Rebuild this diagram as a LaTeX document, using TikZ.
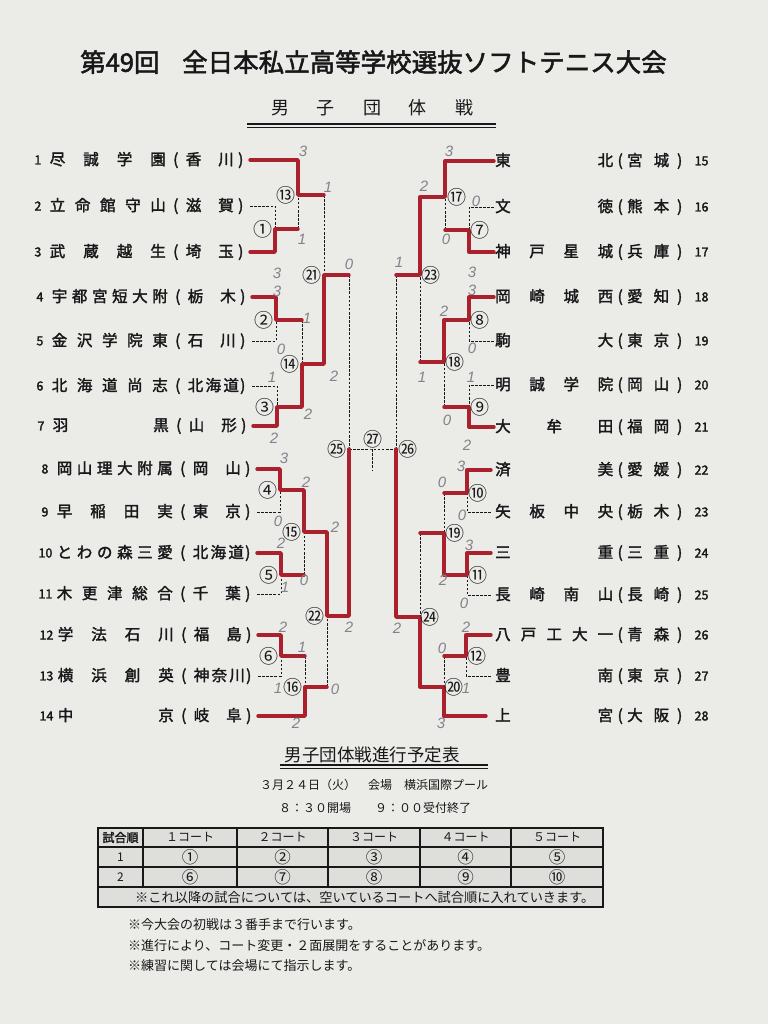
\documentclass[tikz,border=0pt]{standalone}
\usepackage{fontspec}
\setmainfont{Noto Sans CJK JP}[AutoFakeBold=2]
\newfontfamily\hand{Liberation Sans}
\usetikzlibrary{calc}
\definecolor{paper}{RGB}{235,235,232}
\definecolor{ink}{RGB}{24,24,26}
\definecolor{marker}{RGB}{170,32,44}
\definecolor{pencil}{RGB}{130,130,140}
\definecolor{cellgrey}{RGB}{222,222,219}
\newcommand\LT[2]{\makebox[116pt][s]{#1}\makebox[20pt]{(}\makebox[48pt][s]{#2}\makebox[14pt]{)}}
\newcommand\RT[2]{\makebox[118pt][s]{#1}\makebox[14pt]{(}\makebox[42pt][s]{#2}\makebox[21pt]{)}}
\tikzset{
  win/.style={draw=marker, line width=3.4pt, line join=round, line cap=round},
  lose/.style={draw=ink, line width=0.9pt, dash pattern=on 2.6pt off 1.5pt},
  tname/.style={inner sep=0pt, font=\bfseries\fontsize{15.5}{16}\selectfont, text=ink},
  tnum/.style={inner sep=0pt, font=\bfseries\fontsize{12.5}{13}\selectfont, text=ink},
  mlab/.style={inner sep=0pt, font=\fontsize{19}{19}\selectfont, text=ink},
  score/.style={inner sep=0pt, font=\hand\itshape\fontsize{15}{15}\selectfont, text=pencil},
  cell/.style={inner sep=0pt, font=\fontsize{12}{12}\selectfont, text=ink},
  ccirc/.style={inner sep=0pt, font=\fontsize{16.5}{16.5}\selectfont, text=ink},
  note/.style={inner sep=0pt, font=\fontsize{13}{13}\selectfont, text=ink, anchor=west},
  tabline/.style={draw=ink, line width=1.4pt},
}
\begin{document}
\begin{tikzpicture}[x=1pt,y=-1pt]
\useasboundingbox (0,0) rectangle (768,1024);
\fill[paper] (0,0) rectangle (768,1024);

% ---------- titles ----------
\node[inner sep=0pt, anchor=west, font=\bfseries\fontsize{25.5}{26}\selectfont, text=ink] (ttl1) at (80,62) {第49回};
\node[inner sep=0pt, anchor=west, font=\bfseries\fontsize{25.5}{26}\selectfont, text=ink] (ttl2) at (182,62) {全日本私立高等学校選抜ソフトテニス大会};
\node[inner sep=0pt, font=\fontsize{18}{18}\selectfont, text=ink] (sub) at (372,108) {\makebox[202pt][s]{男 子 団 体 戦}};
\coordinate (ulA) at (247,124);
\coordinate (ulB) at (496,124);
\draw[ink, line width=2pt] (ulA) -- (ulB);
\draw[ink, line width=0.7pt] ($(ulA)+(0,3.2)$) -- ($(ulB)+(0,3.2)$);

% ---------- left teams ----------
\coordinate (T1) at (250,160);
\coordinate (T2) at (250,206);
\coordinate (T3) at (250,252);
\coordinate (T4) at (252,297);
\coordinate (T5) at (252,341);
\coordinate (T6) at (252,386);
\coordinate (T7) at (253,426);
\coordinate (T8) at (257,469);
\coordinate (T9) at (257,512);
\coordinate (T10) at (257,553);
\coordinate (T11) at (257,594);
\coordinate (T12) at (258,635);
\coordinate (T13) at (258,676);
\coordinate (T14) at (258,716);

\node[tname,anchor=east] (N1) at ($(T1)+(-2,0)$) {\LT{尽 誠 学 園}{香 川}};
\node[tname,anchor=east] (N2) at ($(T2)+(-2,0)$) {\LT{立 命 館 守 山}{滋 賀}};
\node[tname,anchor=east] (N3) at ($(T3)+(-2,0)$) {\LT{武 蔵 越 生}{埼 玉}};
\node[tname,anchor=east] (N4) at ($(T4)+(-2,0)$) {\LT{宇 都 宮 短 大 附}{栃 木}};
\node[tname,anchor=east] (N5) at ($(T5)+(-2,0)$) {\LT{金 沢 学 院 東}{石 川}};
\node[tname,anchor=east] (N6) at ($(T6)+(-2,0)$) {\LT{北 海 道 尚 志}{北 海 道}};
\node[tname,anchor=east] (N7) at ($(T7)+(-2,0)$) {\LT{羽 黒}{山 形}};
\node[tname,anchor=east] (N8) at ($(T8)+(-2,0)$) {\LT{岡 山 理 大 附 属}{岡 山}};
\node[tname,anchor=east] (N9) at ($(T9)+(-2,0)$) {\LT{早 稲 田 実}{東 京}};
\node[tname,anchor=east] (N10) at ($(T10)+(-2,0)$) {\LT{と わ の 森 三 愛}{北 海 道}};
\node[tname,anchor=east] (N11) at ($(T11)+(-2,0)$) {\LT{木 更 津 総 合}{千 葉}};
\node[tname,anchor=east] (N12) at ($(T12)+(-2,0)$) {\LT{学 法 石 川}{福 島}};
\node[tname,anchor=east] (N13) at ($(T13)+(-2,0)$) {\LT{横 浜 創 英}{神 奈 川}};
\node[tname,anchor=east] (N14) at ($(T14)+(-2,0)$) {\LT{中 京}{岐 阜}};

\node[tnum,anchor=east] (K1) at ($(N1.west)+(-8,0)$) {1};
\node[tnum,anchor=east] (K2) at ($(N2.west)+(-8,0)$) {2};
\node[tnum,anchor=east] (K3) at ($(N3.west)+(-8,0)$) {3};
\node[tnum,anchor=east] (K4) at ($(N4.west)+(-8,0)$) {4};
\node[tnum,anchor=east] (K5) at ($(N5.west)+(-8,0)$) {5};
\node[tnum,anchor=east] (K6) at ($(N6.west)+(-8,0)$) {6};
\node[tnum,anchor=east] (K7) at ($(N7.west)+(-8,0)$) {7};
\node[tnum,anchor=east] (K8) at ($(N8.west)+(-8,0)$) {8};
\node[tnum,anchor=east] (K9) at ($(N9.west)+(-8,0)$) {9};
\node[tnum,anchor=east] (K10) at ($(N10.west)+(-4,0)$) {10};
\node[tnum,anchor=east] (K11) at ($(N11.west)+(-4,0)$) {11};
\node[tnum,anchor=east] (K12) at ($(N12.west)+(-4,0)$) {12};
\node[tnum,anchor=east] (K13) at ($(N13.west)+(-4,0)$) {13};
\node[tnum,anchor=east] (K14) at ($(N14.west)+(-4,0)$) {14};

% ---------- right teams ----------
\coordinate (T15) at (494,161);
\coordinate (T16) at (494,207);
\coordinate (T17) at (494,252);
\coordinate (T18) at (494,297);
\coordinate (T19) at (494,341);
\coordinate (T20) at (494,385);
\coordinate (T21) at (494,427);
\coordinate (T22) at (491,470);
\coordinate (T23) at (491,512);
\coordinate (T24) at (491,553);
\coordinate (T25) at (491,595);
\coordinate (T26) at (491,635);
\coordinate (T27) at (491,676);
\coordinate (T28) at (486,716);
\coordinate (RX) at (495,0);

\node[tname,anchor=west] (N15) at (T15 -| RX) {\RT{東 北}{宮 城}};
\node[tname,anchor=west] (N16) at (T16 -| RX) {\RT{文 徳}{熊 本}};
\node[tname,anchor=west] (N17) at (T17 -| RX) {\RT{神 戸 星 城}{兵 庫}};
\node[tname,anchor=west] (N18) at (T18 -| RX) {\RT{岡 崎 城 西}{愛 知}};
\node[tname,anchor=west] (N19) at (T19 -| RX) {\RT{駒 大}{東 京}};
\node[tname,anchor=west] (N20) at (T20 -| RX) {\RT{明 誠 学 院}{岡 山}};
\node[tname,anchor=west] (N21) at (T21 -| RX) {\RT{大 牟 田}{福 岡}};
\node[tname,anchor=west] (N22) at (T22 -| RX) {\RT{済 美}{愛 媛}};
\node[tname,anchor=west] (N23) at (T23 -| RX) {\RT{矢 板 中 央}{栃 木}};
\node[tname,anchor=west] (N24) at (T24 -| RX) {\RT{三 重}{三 重}};
\node[tname,anchor=west] (N25) at (T25 -| RX) {\RT{長 崎 南 山}{長 崎}};
\node[tname,anchor=west] (N26) at (T26 -| RX) {\RT{八 戸 工 大 一}{青 森}};
\node[tname,anchor=west] (N27) at (T27 -| RX) {\RT{豊 南}{東 京}};
\node[tname,anchor=west] (N28) at (T28 -| RX) {\RT{上 宮}{大 阪}};

\foreach \k in {15,...,28}{
  \node[tnum,anchor=west] (K\k) at ($(N\k.east)+(4,0)$) {\k};
}

% ---------- match junctions ----------
\coordinate (M1) at (275,229);
\coordinate (M2) at (276,320);
\coordinate (M3) at (277,407);
\coordinate (M4) at (280,490);
\coordinate (M5) at (281,575);
\coordinate (M6) at (281,656);
\coordinate (M13) at (298,195);
\coordinate (M14) at (302,364);
\coordinate (M15) at (304,532);
\coordinate (M16) at (305,687);
\coordinate (M21) at (324,275);
\coordinate (M22) at (327,616);
\coordinate (M25) at (349,449);
\coordinate (M7) at (469,230);
\coordinate (M8) at (469,320);
\coordinate (M9) at (469,407);
\coordinate (M10) at (467,493);
\coordinate (M11) at (467,575);
\coordinate (M12) at (466,656);
\coordinate (M17) at (445,197);
\coordinate (M18) at (444,362);
\coordinate (M19) at (444,533);
\coordinate (M20) at (444,687);
\coordinate (M23) at (420,275);
\coordinate (M24) at (420,617);
\coordinate (M26) at (396,449);
\coordinate (M27) at (372,449);
\coordinate (M27s) at (372,470);

% ---------- dashed (not advanced) ----------
\draw[lose] (T2) -| (M1);
\draw[lose] (M1 -| M13) -- (M13);
\draw[lose] (M13 -| M21) -- (M21);
\draw[lose] (T5) -| (M2);
\draw[lose] (M2 -| M14) -- (M14);
\draw[lose] (T6) -| (M3);
\draw[lose] (M21 -| M25) -- (M25);
\draw[lose] (T9) -| (M4);
\draw[lose] (T11) -| (M5);
\draw[lose] (M5 -| M15) -- (M15);
\draw[lose] (T13) -| (M6);
\draw[lose] (M6 -| M16) -- (M16);
\draw[lose] (M16 -| M22) -- (M22);
\draw[lose] (M25) -- (M27) -- (M26);
\draw[lose] (M27) -- (M27s);
\draw[lose] (T16) -| (M7);
\draw[lose] (M7 -| M17) -- (M17);
\draw[lose] (T19) -| (M8);
\draw[lose] (T20) -| (M9);
\draw[lose] (M9 -| M18) -- (M18);
\draw[lose] (M18 -| M23) -- (M23);
\draw[lose] (M23 -| M26) -- (M26);
\draw[lose] (T23) -| (M10);
\draw[lose] (M10 -| M19) -- (M19);
\draw[lose] (T25) -| (M11);
\draw[lose] (M19 -| M24) -- (M24);
\draw[lose] (T27) -| (M12);
\draw[lose] (M12 -| M20) -- (M20);

% ---------- red (winners) ----------
\draw[win] (T3) -| (M1) -- (M1 -| M13);
\draw[win] (T1) -| (M13) -- (M13 -| M21);
\draw[win] (T4) -| (M2) -- (M2 -| M14);
\draw[win] (T7) -| (M3) -- (M3 -| M14) -- (M14) -- (M14 -| M21) -- (M21) -- (M21 -| M25);
\draw[win] (T8) -| (M4) -- (M4 -| M15) -- (M15) -- (M15 -| M22) -- (M22) -- (M22 -| M25) -- (M25);
\draw[win] (T10) -| (M5) -- (M5 -| M15);
\draw[win] (T12) -| (M6) -- (M6 -| M16);
\draw[win] (T14) -| (M16) -- (M16 -| M22);
\draw[win] (T17) -| (M7) -- (M7 -| M17);
\draw[win] (T15) -| (M17) -- (M17 -| M23) -- (M23) -- (M23 -| M26);
\draw[win] (T18) -| (M8) -- (M8 -| M18) -- (M18) -- (M18 -| M23);
\draw[win] (T21) -| (M9) -- (M9 -| M18);
\draw[win] (T22) -| (M10) -- (M10 -| M19);
\draw[win] (T24) -| (M11) -- (M11 -| M19) -- (M19) -- (M19 -| M24);
\draw[win] (T26) -| (M12) -- (M12 -| M20);
\draw[win] (T28) -| (M20) -- (M20 -| M24) -- (M24) -- (M24 -| M26) -- (M26);

% ---------- match labels ----------
\node[mlab,anchor=east] (L1) at ($(M1)+(-2,0)$) {①};
\node[mlab,anchor=east] (L2) at ($(M2)+(-2,0)$) {②};
\node[mlab,anchor=east] (L3) at ($(M3)+(-2,0)$) {③};
\node[mlab,anchor=east] (L4) at ($(M4)+(-2,0)$) {④};
\node[mlab,anchor=east] (L5) at ($(M5)+(-2,0)$) {⑤};
\node[mlab,anchor=east] (L6) at ($(M6)+(-2,0)$) {⑥};
\node[mlab,anchor=east] (L13) at ($(M13)+(-2,0)$) {⑬};
\node[mlab,anchor=east] (L14) at ($(M14)+(-2,0)$) {⑭};
\node[mlab,anchor=east] (L15) at ($(M15)+(-2,0)$) {⑮};
\node[mlab,anchor=east] (L16) at ($(M16)+(-2,0)$) {⑯};
\node[mlab,anchor=east] (L21) at ($(M21)+(-2,0)$) {㉑};
\node[mlab,anchor=east] (L22) at ($(M22)+(-2,0)$) {㉒};
\node[mlab,anchor=east] (L25) at ($(M25)+(-2,0)$) {㉕};
\node[mlab,anchor=west] (L7) at ($(M7)+(1,0)$) {⑦};
\node[mlab,anchor=west] (L8) at ($(M8)+(1,0)$) {⑧};
\node[mlab,anchor=west] (L9) at ($(M9)+(1,0)$) {⑨};
\node[mlab,anchor=west] (L10) at ($(M10)+(1,0)$) {⑩};
\node[mlab,anchor=west] (L11) at ($(M11)+(1,0)$) {⑪};
\node[mlab,anchor=west] (L12) at ($(M12)+(1,0)$) {⑫};
\node[mlab,anchor=west] (L17) at ($(M17)+(2,0)$) {⑰};
\node[mlab,anchor=west] (L18) at ($(M18)+(1,0)$) {⑱};
\node[mlab,anchor=west] (L19) at ($(M19)+(1,0)$) {⑲};
\node[mlab,anchor=west] (L20) at ($(M20)+(0,0)$) {⑳};
\node[mlab,anchor=west] (L23) at ($(M23)+(1,0)$) {㉓};
\node[mlab,anchor=west] (L24) at ($(M24)+(0,0)$) {㉔};
\node[mlab,anchor=west] (L26) at ($(M26)+(2,0)$) {㉖};
\node[mlab,anchor=south] (L27) at ($(M27)+(1,-1)$) {㉗};

% ---------- handwritten scores ----------
\node[score] (s1) at (303,151) {3};
\node[score] (s2) at (328,187) {1};
\node[score] (s3) at (302,239) {1};
\node[score] (s4) at (277,273) {3};
\node[score] (s5) at (277,291) {3};
\node[score] (s6) at (307,318) {1};
\node[score] (s7) at (281,349) {0};
\node[score] (s8) at (272,377) {1};
\node[score] (s9) at (334,376) {2};
\node[score] (s10) at (308,414) {2};
\node[score] (s11) at (274,438) {2};
\node[score] (s12) at (349,264) {0};
\node[score] (s13) at (284,458) {3};
\node[score] (s14) at (306,482) {2};
\node[score] (s15) at (278,521) {0};
\node[score] (s16) at (335,527) {2};
\node[score] (s17) at (281,543) {2};
\node[score] (s18) at (304,580) {0};
\node[score] (s19) at (285,587) {1};
\node[score] (s20) at (349,627) {2};
\node[score] (s21) at (283,627) {2};
\node[score] (s22) at (302,647) {1};
\node[score] (s23) at (278,688) {1};
\node[score] (s24) at (335,689) {0};
\node[score] (s25) at (296,723) {2};
\node[score] (r1) at (449,151) {3};
\node[score] (r2) at (424,186) {2};
\node[score] (r3) at (476,201) {0};
\node[score] (r4) at (446,239) {0};
\node[score] (r5) at (399,262) {1};
\node[score] (r6) at (472,272) {3};
\node[score] (r7) at (472,290) {3};
\node[score] (r8) at (444,311) {2};
\node[score] (r9) at (472,348) {0};
\node[score] (r10) at (422,377) {1};
\node[score] (r11) at (471,377) {1};
\node[score] (r12) at (447,420) {0};
\node[score] (r13) at (467,445) {2};
\node[score] (r14) at (461,466) {3};
\node[score] (r15) at (442,482) {0};
\node[score] (r16) at (462,515) {0};
\node[score] (r17) at (469,545) {3};
\node[score] (r18) at (443,580) {2};
\node[score] (r19) at (464,603) {0};
\node[score] (r20) at (397,628) {2};
\node[score] (r21) at (466,627) {2};
\node[score] (r22) at (442,648) {0};
\node[score] (r23) at (466,688) {1};
\node[score] (r24) at (441,723) {3};

% ---------- schedule ----------
\node[inner sep=0pt, font=\fontsize{17.5}{18}\selectfont, text=ink] (sch) at (372,755) {男子団体戦進行予定表};
\coordinate (ul2A) at (280,765);
\coordinate (ul2B) at (488,765);
\draw[ink, line width=2pt] (ul2A) -- (ul2B);
\draw[ink, line width=0.7pt] ($(ul2A)+(0,3)$) -- ($(ul2B)+(0,3)$);
\node[inner sep=0pt, font=\fontsize{12}{12}\selectfont, text=ink] (date) at (374,785) {３月２４日（火）　会場　横浜国際プール};
\node[inner sep=0pt, font=\fontsize{12}{12}\selectfont, text=ink] (time) at (375,808) {８：３０開場　　９：００受付終了};

\fill[cellgrey] (98,828) rectangle (603,907);
\foreach \x in {143,237,328,420,511}{ \draw[tabline] (\x,828) -- (\x,887); }
\draw[ink, line width=2.2pt] (98,847) -- (603,847);
\draw[tabline] (98,867) -- (603,867);
\draw[ink, line width=2.2pt] (98,887) -- (603,887);
\draw[ink, line width=2.4pt] (98,828) rectangle (603,907);

\node[cell, font=\bfseries\fontsize{12}{12}\selectfont] (h0) at (120.5,837.5) {試合順};
\node[cell] (h1) at (190,837.5) {１コート};
\node[cell] (h2) at (282.5,837.5) {２コート};
\node[cell] (h3) at (374,837.5) {３コート};
\node[cell] (h4) at (465.5,837.5) {４コート};
\node[cell] (h5) at (557,837.5) {５コート};
\node[cell] (a0) at (120.5,857) {1};
\node[ccirc] (a1) at (190,857) {①};
\node[ccirc] (a2) at (282.5,857) {②};
\node[ccirc] (a3) at (374,857) {③};
\node[ccirc] (a4) at (465.5,857) {④};
\node[ccirc] (a5) at (557,857) {⑤};
\node[cell] (b0) at (120.5,877) {2};
\node[ccirc] (b1) at (190,877) {⑥};
\node[ccirc] (b2) at (282.5,877) {⑦};
\node[ccirc] (b3) at (374,877) {⑧};
\node[ccirc] (b4) at (465.5,877) {⑨};
\node[ccirc] (b5) at (557,877) {⑩};
\node[note, font=\fontsize{13.2}{13}\selectfont] (nrow) at (135,897) {※これ以降の試合については、空いているコートへ試合順に入れていきます。};

\node[note] (n1) at (128,925) {※今大会の初戦は３番手まで行います。};
\node[note] (n2) at (128,946) {※進行により、コート変更・２面展開をすることがあります。};
\node[note] (n3) at (128,966) {※練習に関しては会場にて指示します。};
\end{tikzpicture}
\end{document}
